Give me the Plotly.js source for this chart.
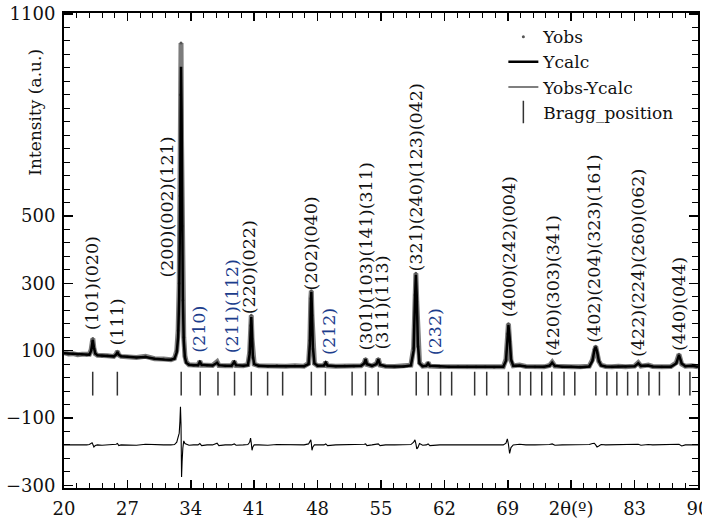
<!DOCTYPE html>
<html><head><meta charset="utf-8">
<script src="https://cdn.plot.ly/plotly-3.0.1.min.js"></script>
<style>html,body{margin:0;padding:0;background:#fff;}#chart{width:702px;height:524px;}</style>
</head><body><div id="chart"></div>
<script>
// 2θ grid (degrees)
const twoTheta = [
  20.0, 20.5, 21.0, 21.5, 22.0, 22.5, 22.8, 23.0, 23.1, 23.18,
  23.3, 23.45, 23.7, 24.2, 24.8, 25.5, 25.75, 25.9, 26.05, 26.3,
  27.0, 28.0, 29.0, 30.0, 31.0, 31.8, 32.2, 32.45, 32.6, 32.72,
  32.8, 32.86, 32.92, 32.98, 33.04, 33.12, 33.22, 33.35, 33.5, 33.8,
  34.3, 34.8, 35.0, 35.2, 35.8, 36.4, 36.9, 37.1, 37.8, 38.5,
  38.8, 39.0, 39.8, 40.3, 40.5, 40.6, 40.68, 40.76, 40.85, 41.0,
  41.5, 42.5, 43.5, 44.5, 45.5, 46.5, 47.0, 47.15, 47.25, 47.31,
  47.38, 47.48, 47.65, 48.0, 48.7, 48.9, 49.1, 50.0, 51.0, 52.0,
  52.8, 53.15, 53.3, 53.45, 54.0, 54.5, 54.7, 54.9, 55.5, 56.5,
  57.5, 58.3, 58.6, 58.75, 58.85, 58.95, 59.07, 59.25, 59.6, 60.0,
  60.2, 60.4, 61.5, 62.5, 63.5, 64.5, 65.5, 66.5, 67.5, 68.5,
  68.8, 68.95, 69.07, 69.2, 69.35, 69.6, 70.3, 71.0, 72.0, 73.0,
  73.6, 73.9, 74.2, 75.0, 76.0, 77.0, 78.0, 78.35, 78.55, 78.7,
  78.85, 79.05, 79.3, 79.8, 80.5, 81.2, 82.0, 83.0, 83.4, 83.7,
  84.5, 85.0, 86.0, 87.0, 87.6, 87.9, 88.2, 88.6, 89.3, 90.0
];
// observed intensity
const yObs = [
  94, 90, 91, 88, 89, 87, 89, 103, 128, 136,
  107, 91, 86, 84, 85, 83, 89, 98, 87, 83,
  82, 80, 83, 76, 75, 73, 77, 100, 160, 300,
  560, 860, 1014, 720, 470, 250, 140, 84, 66, 58,
  57, 57, 68, 57, 57, 56, 67, 56, 55, 55,
  68, 56, 55, 58, 95, 175, 205, 135, 80, 60,
  55, 54, 56, 54, 55, 54, 62, 130, 255, 278,
  205, 105, 62, 55, 56, 66, 55, 54, 55, 54,
  55, 63, 76, 59, 55, 61, 76, 57, 54, 53,
  54, 57, 108, 265, 330, 245, 112, 64, 54, 55,
  64, 54, 53, 52, 53, 52, 52, 52, 51, 52,
  74, 150, 180, 128, 70, 55, 57, 53, 52, 52,
  56, 66, 54, 52, 52, 52, 54, 73, 104, 113,
  94, 68, 57, 53, 52, 54, 52, 54, 64, 54,
  57, 53, 52, 53, 64, 89, 60, 54, 55, 52
];
// calculated intensity
const yCalc = [
  92, 91, 90, 89, 88, 87, 88, 100, 125, 132,
  110, 92, 86, 85, 84, 83, 88, 96, 88, 83,
  82, 80, 81, 76, 74, 73, 76, 95, 140, 260,
  480, 760, 943, 820, 520, 260, 130, 80, 64, 58,
  57, 57, 66, 58, 57, 56, 64, 57, 55, 55,
  66, 57, 55, 57, 90, 160, 200, 150, 85, 60,
  55, 54, 55, 54, 54, 54, 60, 120, 240, 274,
  220, 110, 62, 55, 56, 64, 56, 54, 54, 54,
  55, 62, 74, 60, 55, 60, 74, 58, 54, 53,
  53, 56, 100, 250, 325, 260, 120, 62, 54, 55,
  62, 55, 53, 52, 52, 52, 52, 51, 51, 52,
  70, 140, 176, 140, 75, 55, 56, 53, 52, 52,
  55, 64, 55, 52, 52, 51, 53, 70, 100, 111,
  98, 70, 56, 53, 52, 53, 52, 54, 62, 55,
  56, 53, 52, 52, 62, 87, 62, 54, 55, 52
];
// difference curve (Yobs-Ycalc, shown offset)
const yDiff = [
  -180, -181, -180, -180, -181, -180, -179, -176, -174, -178,
  -186, -182, -180, -181, -180, -180, -178, -176, -182, -180,
  -180, -181, -178, -180, -180, -180, -179, -172, -160, -145,
  -110, -67, -120, -275, -230, -190, -168, -176, -178, -181,
  -180, -180, -176, -182, -180, -180, -175, -182, -180, -180,
  -177, -181, -180, -179, -172, -160, -175, -196, -186, -180,
  -180, -181, -179, -180, -180, -180, -177, -168, -165, -176,
  -196, -186, -180, -180, -180, -177, -182, -180, -180, -180,
  -180, -178, -177, -182, -180, -178, -177, -182, -180, -180,
  -180, -179, -172, -165, -176, -192, -188, -176, -181, -180,
  -177, -182, -180, -180, -180, -180, -181, -180, -180, -180,
  -175, -162, -178, -205, -188, -180, -178, -180, -180, -180,
  -179, -177, -181, -180, -180, -180, -179, -176, -175, -180,
  -186, -183, -179, -180, -180, -179, -180, -180, -178, -181,
  -179, -180, -180, -180, -178, -178, -183, -180, -180, -180
];
// Bragg reflection positions (2θ) and the level of their tick row
const braggPos = [
  23.17, 25.89, 32.94, 35.04, 37.00, 38.83, 40.68, 42.48, 44.14, 47.31,
  48.86, 51.81, 53.29, 54.69, 58.89, 60.22, 61.58, 62.80, 65.34, 66.67,
  69.07, 70.35, 71.53, 72.75, 73.85, 75.21, 76.40, 78.72, 79.94, 81.04,
  82.23, 83.36, 84.58, 85.74, 87.93, 89.11
];
const braggLevel = 2;
// peak (hkl) labels
const peakLabels = [
  "(101)(020)", "(111)", "(200)(002)(121)", "(210)", "(211)(112)", "(220)(022)",
  "(202)(040)", "(212)", "(301)(103)(141)(311)", "(311)(113)", "(321)(240)(123)(042)",
  "(232)", "(400)(242)(004)", "(420)(303)(341)", "(402)(204)(323)(161)",
  "(422)(224)(260)(062)", "(440)(044)"
];
const peakLabelX = [23.10, 25.86, 31.39, 34.82, 38.58, 40.46, 47.31, 49.19, 53.29, 55.06, 58.81, 60.92, 69.10, 73.96, 78.50, 83.36, 87.90];
const peakLabelY = [155, 108, 310, 87, 87, 203, 274, 81, 93, 96, 328, 81, 194, 78, 117, 75, 93];
const blueLabels = ["(210)", "(211)(112)", "(212)", "(232)"];
// axis ticks
const xTicks = [20, 27, 34, 41, 48, 55, 62, 69, 76, 83, 90];
const xTickText = ["20", "27", "34", "41", "48", "55", "62", "69", "2θ(º)", "83", "90"];
const yTicks = [-300, -100, 100, 300, 500, 1100];

const SERIF = "DejaVu Serif";

const traces = [
  {x: twoTheta, y: yObs, type: "scatter", mode: "lines", line: {color: "#7c7c7c", width: 5},
   showlegend: false, hoverinfo: "skip"},
  {x: twoTheta, y: yObs, type: "scatter", mode: "markers", name: "Yobs",
   marker: {size: 3, color: "#555"}},
  {x: twoTheta, y: yCalc, type: "scatter", mode: "lines", name: "Ycalc",
   line: {color: "#000", width: 2.5}},
  {x: twoTheta, y: yDiff, type: "scatter", mode: "lines", name: "Yobs-Ycalc",
   line: {color: "#000", width: 1.1}},
  {x: braggPos, y: braggPos.map(() => braggLevel), type: "scatter", mode: "markers", name: "Bragg_position",
   marker: {symbol: "line-ns", size: 17, color: "#333", line: {color: "#333", width: 1.5}}}
];

const annotations = peakLabels.map((t, i) => ({
  x: peakLabelX[i], y: peakLabelY[i], xref: "x", yref: "y",
  text: t, showarrow: false, textangle: -90, xanchor: "center", yanchor: "bottom",
  font: {family: SERIF, size: 17.5, color: blueLabels.includes(t) ? "#1c3d8c" : "#111"}
}));
annotations.push({
  text: "Intensity (a.u.)", xref: "paper", yref: "paper", x: -0.046, y: 0.792,
  showarrow: false, textangle: -90, xanchor: "center", yanchor: "middle",
  font: {family: SERIF, size: 17, color: "#111"}
});

const layout = {
  width: 702, height: 524,
  margin: {l: 64, r: 4, t: 13, b: 36},
  paper_bgcolor: "#fff", plot_bgcolor: "#fff",
  font: {family: SERIF},
  showlegend: true,
  legend: {x: 0.693, y: 0.987, xanchor: "left", yanchor: "top", bgcolor: "rgba(0,0,0,0)",
           font: {family: SERIF, size: 17, color: "#111"}, tracegroupgap: 0},
  xaxis: {
    range: [20, 90], tickmode: "array", tickvals: xTicks, ticktext: xTickText,
    ticks: "inside", ticklen: 8, tickwidth: 1.5, tickcolor: "#000",
    showline: true, linewidth: 2, linecolor: "#000", mirror: "ticks",
    showgrid: false, zeroline: false, ticklabelstandoff: 3, ticklabeloverflow: "allow",
    tickfont: {family: SERIF, size: 18, color: "#111"},
    minor: {tickmode: "linear", tick0: 20, dtick: 1.4, ticks: "inside", ticklen: 5, tickwidth: 1, tickcolor: "#000", showgrid: false}
  },
  yaxis: {
    range: [-308, 1103], tickmode: "array", tickvals: yTicks,
    ticks: "inside", ticklen: 9, tickwidth: 1.5, tickcolor: "#000",
    showline: true, linewidth: 2, linecolor: "#000", mirror: "ticks",
    showgrid: false, zeroline: false, ticklabelstandoff: 3, ticklabeloverflow: "allow",
    tickfont: {family: SERIF, size: 18, color: "#111"},
    minor: {tickmode: "linear", tick0: -300, dtick: 40, ticks: "inside", ticklen: 6, tickwidth: 1, tickcolor: "#000", showgrid: false}
  },
  annotations: annotations
};

Plotly.newPlot("chart", traces, layout, {staticPlot: true, displayModeBar: false});
</script></body></html>
